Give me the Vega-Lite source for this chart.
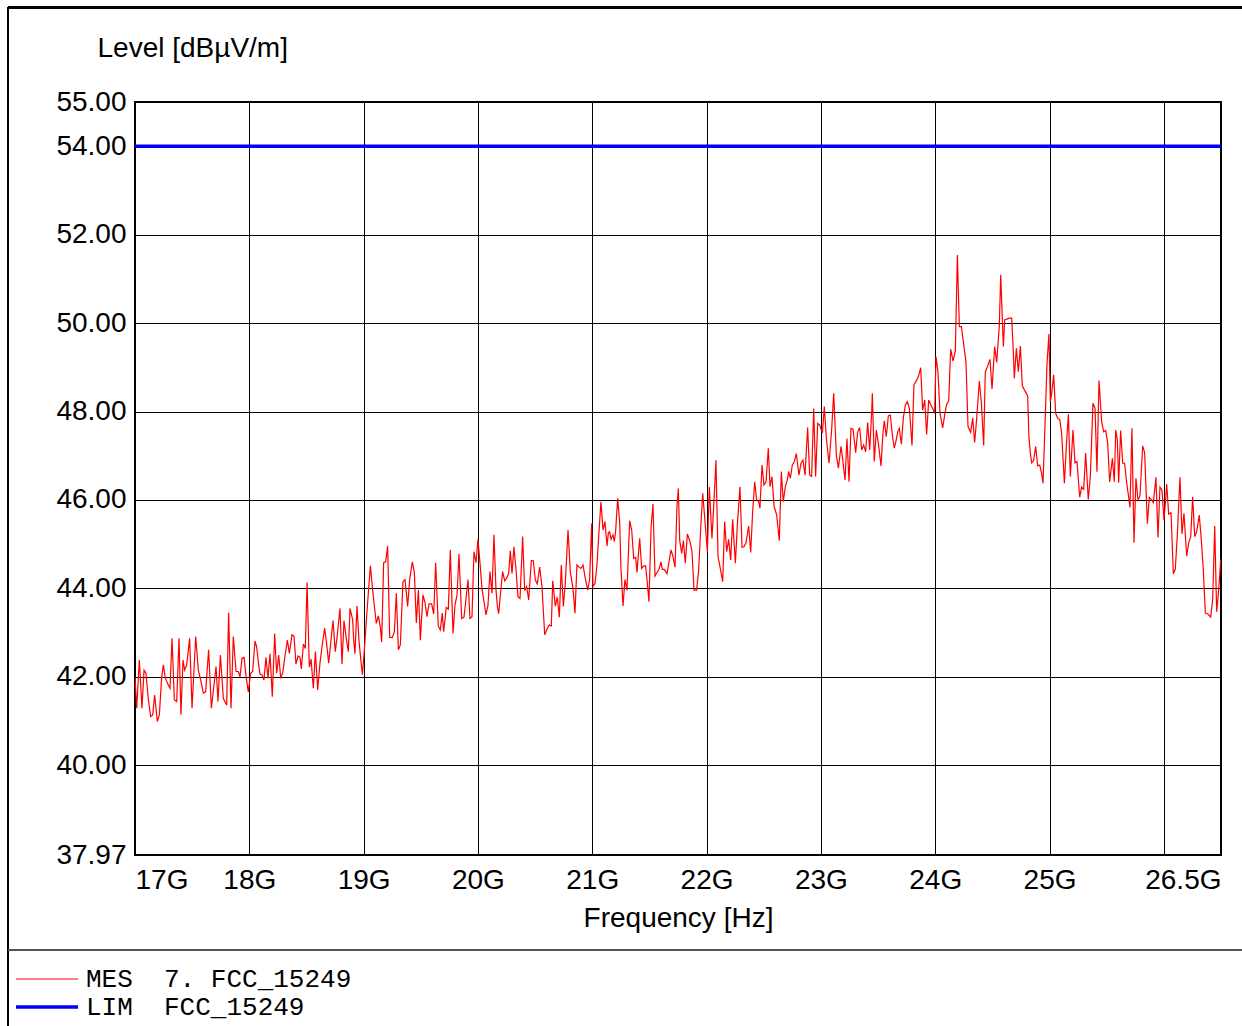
{
  "$schema": "https://vega.github.io/schema/vega-lite/v6.json",
  "width": 1086,
  "height": 753,
  "autosize": {"type": "none"},
  "padding": {"left": 135, "top": 102, "right": 21, "bottom": 171},
  "background": "#ffffff",
  "config": {
    "view": {"stroke": "#000000", "strokeWidth": 2},
    "font": "Liberation Sans",
    "axis": {
      "gridColor": "#000000", "gridOpacity": 1, "gridWidth": 1,
      "domain": false, "ticks": false,
      "labelColor": "#000000", "titleColor": "#000000",
      "labelFont": "Liberation Sans", "titleFont": "Liberation Sans",
      "labelFontSize": 28, "titleFontSize": 28, "titleFontWeight": "normal"
    },
    "legend": {
      "orient": "none", "legendX": -101, "legendY": 864, "title": null,
      "symbolType": "M-5,0H5", "symbolSize": 154, "padding": 0,
      "labelFont": "Liberation Mono", "labelFontSize": 26, "labelColor": "#000000",
      "labelOffset": 26, "rowPadding": 2, "labelLimit": 0
    }
  },
  "data": {"values": [
    {"f":17.000,"v":41.99,"s":"MES"},{"f":17.015,"v":41.29,"s":"MES"},{"f":17.038,"v":42.38,"s":"MES"},{"f":17.061,"v":41.29,"s":"MES"},
    {"f":17.079,"v":42.15,"s":"MES"},{"f":17.096,"v":42.08,"s":"MES"},{"f":17.117,"v":41.48,"s":"MES"},{"f":17.137,"v":41.10,"s":"MES"},
    {"f":17.155,"v":41.14,"s":"MES"},{"f":17.172,"v":41.59,"s":"MES"},{"f":17.195,"v":40.99,"s":"MES"},{"f":17.213,"v":41.14,"s":"MES"},
    {"f":17.233,"v":41.97,"s":"MES"},{"f":17.248,"v":42.27,"s":"MES"},{"f":17.265,"v":41.97,"s":"MES"},{"f":17.292,"v":41.81,"s":"MES"},
    {"f":17.306,"v":41.74,"s":"MES"},{"f":17.324,"v":42.87,"s":"MES"},{"f":17.344,"v":41.48,"s":"MES"},{"f":17.365,"v":41.44,"s":"MES"},
    {"f":17.385,"v":42.87,"s":"MES"},{"f":17.402,"v":41.14,"s":"MES"},{"f":17.420,"v":42.38,"s":"MES"},{"f":17.434,"v":42.15,"s":"MES"},
    {"f":17.452,"v":42.27,"s":"MES"},{"f":17.478,"v":42.87,"s":"MES"},{"f":17.499,"v":41.29,"s":"MES"},{"f":17.531,"v":42.91,"s":"MES"},
    {"f":17.554,"v":42.15,"s":"MES"},{"f":17.574,"v":41.93,"s":"MES"},{"f":17.598,"v":41.63,"s":"MES"},{"f":17.618,"v":41.66,"s":"MES"},
    {"f":17.644,"v":42.61,"s":"MES"},{"f":17.668,"v":41.29,"s":"MES"},{"f":17.709,"v":42.23,"s":"MES"},{"f":17.726,"v":41.44,"s":"MES"},
    {"f":17.747,"v":42.49,"s":"MES"},{"f":17.773,"v":41.51,"s":"MES"},{"f":17.802,"v":41.36,"s":"MES"},{"f":17.819,"v":43.45,"s":"MES"},
    {"f":17.840,"v":41.29,"s":"MES"},{"f":17.860,"v":42.91,"s":"MES"},{"f":17.884,"v":42.12,"s":"MES"},{"f":17.904,"v":42.12,"s":"MES"},
    {"f":17.919,"v":42.00,"s":"MES"},{"f":17.936,"v":42.42,"s":"MES"},{"f":17.954,"v":42.44,"s":"MES"},
    {"f":17.971,"v":42.02,"s":"MES"},{"f":17.991,"v":41.66,"s":"MES"},{"f":18.012,"v":42.08,"s":"MES"},{"f":18.029,"v":42.12,"s":"MES"},
    {"f":18.050,"v":42.81,"s":"MES"},{"f":18.064,"v":42.68,"s":"MES"},{"f":18.082,"v":42.27,"s":"MES"},{"f":18.093,"v":42.06,"s":"MES"},
    {"f":18.111,"v":42.04,"s":"MES"},{"f":18.128,"v":41.93,"s":"MES"},{"f":18.146,"v":42.44,"s":"MES"},{"f":18.163,"v":41.97,"s":"MES"},
    {"f":18.181,"v":42.52,"s":"MES"},{"f":18.201,"v":41.55,"s":"MES"},{"f":18.222,"v":42.98,"s":"MES"},{"f":18.239,"v":42.08,"s":"MES"},
    {"f":18.257,"v":42.49,"s":"MES"},{"f":18.274,"v":41.99,"s":"MES"},{"f":18.292,"v":42.08,"s":"MES"},{"f":18.309,"v":42.42,"s":"MES"},
    {"f":18.333,"v":42.83,"s":"MES"},{"f":18.350,"v":42.53,"s":"MES"},{"f":18.373,"v":42.95,"s":"MES"},{"f":18.391,"v":42.92,"s":"MES"},
    {"f":18.408,"v":42.29,"s":"MES"},{"f":18.426,"v":42.47,"s":"MES"},{"f":18.443,"v":42.44,"s":"MES"},{"f":18.455,"v":42.18,"s":"MES"},
    {"f":18.473,"v":42.74,"s":"MES"},{"f":18.490,"v":42.64,"s":"MES"},{"f":18.505,"v":44.13,"s":"MES"},{"f":18.525,"v":42.22,"s":"MES"},
    {"f":18.540,"v":42.40,"s":"MES"},{"f":18.560,"v":41.74,"s":"MES"},{"f":18.578,"v":42.57,"s":"MES"},{"f":18.598,"v":41.70,"s":"MES"},
    {"f":18.618,"v":42.31,"s":"MES"},{"f":18.636,"v":42.68,"s":"MES"},{"f":18.659,"v":43.10,"s":"MES"},{"f":18.677,"v":42.74,"s":"MES"},
    {"f":18.694,"v":42.31,"s":"MES"},{"f":18.712,"v":42.76,"s":"MES"},{"f":18.732,"v":43.27,"s":"MES"},{"f":18.752,"v":42.57,"s":"MES"},
    {"f":18.770,"v":42.95,"s":"MES"},{"f":18.793,"v":43.55,"s":"MES"},{"f":18.811,"v":42.29,"s":"MES"},{"f":18.828,"v":43.27,"s":"MES"},
    {"f":18.846,"v":42.91,"s":"MES"},{"f":18.866,"v":42.57,"s":"MES"},{"f":18.881,"v":43.55,"s":"MES"},{"f":18.904,"v":43.29,"s":"MES"},
    {"f":18.913,"v":42.83,"s":"MES"},{"f":18.924,"v":42.52,"s":"MES"},{"f":18.942,"v":43.60,"s":"MES"},{"f":18.959,"v":42.83,"s":"MES"},
    {"f":18.975,"v":42.40,"s":"MES"},{"f":18.989,"v":42.05,"s":"MES"},{"f":19.003,"v":42.49,"s":"MES"},{"f":19.024,"v":43.28,"s":"MES"},
    {"f":19.041,"v":43.89,"s":"MES"},{"f":19.059,"v":44.51,"s":"MES"},{"f":19.076,"v":44.04,"s":"MES"},{"f":19.094,"v":43.59,"s":"MES"},
    {"f":19.111,"v":43.21,"s":"MES"},{"f":19.129,"v":43.38,"s":"MES"},{"f":19.146,"v":43.13,"s":"MES"},{"f":19.158,"v":42.79,"s":"MES"},
    {"f":19.175,"v":44.58,"s":"MES"},{"f":19.193,"v":44.60,"s":"MES"},{"f":19.210,"v":44.96,"s":"MES"},{"f":19.228,"v":42.89,"s":"MES"},
    {"f":19.251,"v":42.89,"s":"MES"},{"f":19.269,"v":43.02,"s":"MES"},{"f":19.286,"v":43.89,"s":"MES"},{"f":19.304,"v":42.61,"s":"MES"},
    {"f":19.321,"v":42.72,"s":"MES"},{"f":19.344,"v":44.15,"s":"MES"},{"f":19.362,"v":44.20,"s":"MES"},{"f":19.374,"v":43.89,"s":"MES"},
    {"f":19.385,"v":43.59,"s":"MES"},{"f":19.403,"v":44.20,"s":"MES"},{"f":19.426,"v":44.60,"s":"MES"},{"f":19.444,"v":44.35,"s":"MES"},
    {"f":19.461,"v":43.22,"s":"MES"},{"f":19.479,"v":43.96,"s":"MES"},{"f":19.496,"v":42.83,"s":"MES"},{"f":19.519,"v":43.85,"s":"MES"},
    {"f":19.537,"v":43.68,"s":"MES"},{"f":19.554,"v":43.36,"s":"MES"},{"f":19.572,"v":43.65,"s":"MES"},{"f":19.595,"v":43.65,"s":"MES"},
    {"f":19.613,"v":43.42,"s":"MES"},{"f":19.630,"v":44.58,"s":"MES"},{"f":19.653,"v":43.15,"s":"MES"},{"f":19.671,"v":43.06,"s":"MES"},
    {"f":19.688,"v":43.44,"s":"MES"},{"f":19.700,"v":43.02,"s":"MES"},{"f":19.723,"v":43.57,"s":"MES"},{"f":19.741,"v":43.53,"s":"MES"},
    {"f":19.758,"v":44.87,"s":"MES"},{"f":19.782,"v":42.98,"s":"MES"},{"f":19.799,"v":43.62,"s":"MES"},{"f":19.817,"v":43.85,"s":"MES"},
    {"f":19.834,"v":44.78,"s":"MES"},{"f":19.858,"v":43.32,"s":"MES"},
    {"f":19.878,"v":43.35,"s":"MES"},{"f":19.896,"v":43.77,"s":"MES"},{"f":19.913,"v":44.20,"s":"MES"},{"f":19.930,"v":43.32,"s":"MES"},
    {"f":19.948,"v":43.36,"s":"MES"},{"f":19.965,"v":44.83,"s":"MES"},{"f":19.983,"v":44.58,"s":"MES"},{"f":20.000,"v":45.11,"s":"MES"},
    {"f":20.018,"v":44.57,"s":"MES"},{"f":20.035,"v":44.00,"s":"MES"},{"f":20.053,"v":43.70,"s":"MES"},{"f":20.070,"v":43.40,"s":"MES"},
    {"f":20.088,"v":43.62,"s":"MES"},{"f":20.105,"v":44.38,"s":"MES"},{"f":20.123,"v":43.89,"s":"MES"},{"f":20.140,"v":45.21,"s":"MES"},
    {"f":20.158,"v":43.96,"s":"MES"},{"f":20.170,"v":43.59,"s":"MES"},{"f":20.181,"v":43.43,"s":"MES"},{"f":20.199,"v":43.93,"s":"MES"},
    {"f":20.216,"v":44.38,"s":"MES"},{"f":20.234,"v":44.17,"s":"MES"},{"f":20.251,"v":44.23,"s":"MES"},{"f":20.269,"v":44.34,"s":"MES"},
    {"f":20.283,"v":44.85,"s":"MES"},{"f":20.298,"v":44.34,"s":"MES"},{"f":20.315,"v":44.94,"s":"MES"},{"f":20.333,"v":44.42,"s":"MES"},
    {"f":20.350,"v":43.81,"s":"MES"},{"f":20.368,"v":43.77,"s":"MES"},{"f":20.391,"v":45.17,"s":"MES"},{"f":20.409,"v":43.95,"s":"MES"},
    {"f":20.426,"v":44.04,"s":"MES"},{"f":20.444,"v":43.74,"s":"MES"},{"f":20.467,"v":44.63,"s":"MES"},{"f":20.484,"v":44.63,"s":"MES"},
    {"f":20.502,"v":44.19,"s":"MES"},{"f":20.519,"v":44.10,"s":"MES"},{"f":20.540,"v":44.48,"s":"MES"},{"f":20.560,"v":44.04,"s":"MES"},
    {"f":20.584,"v":42.95,"s":"MES"},{"f":20.607,"v":43.10,"s":"MES"},{"f":20.624,"v":43.17,"s":"MES"},{"f":20.642,"v":43.15,"s":"MES"},
    {"f":20.654,"v":44.17,"s":"MES"},{"f":20.677,"v":43.60,"s":"MES"},{"f":20.694,"v":43.80,"s":"MES"},{"f":20.712,"v":43.35,"s":"MES"},
    {"f":20.729,"v":44.53,"s":"MES"},{"f":20.747,"v":43.59,"s":"MES"},{"f":20.764,"v":44.11,"s":"MES"},{"f":20.788,"v":45.32,"s":"MES"},
    {"f":20.808,"v":44.38,"s":"MES"},
    {"f":20.831,"v":44.00,"s":"MES"},{"f":20.849,"v":43.44,"s":"MES"},{"f":20.866,"v":44.53,"s":"MES"},{"f":20.884,"v":44.48,"s":"MES"},
    {"f":20.901,"v":44.45,"s":"MES"},{"f":20.919,"v":44.53,"s":"MES"},{"f":20.936,"v":44.27,"s":"MES"},{"f":20.960,"v":43.96,"s":"MES"},
    {"f":20.977,"v":44.20,"s":"MES"},{"f":20.995,"v":45.47,"s":"MES"},{"f":21.006,"v":44.04,"s":"MES"},{"f":21.024,"v":44.11,"s":"MES"},
    {"f":21.041,"v":44.53,"s":"MES"},{"f":21.059,"v":45.28,"s":"MES"},{"f":21.076,"v":45.96,"s":"MES"},{"f":21.094,"v":45.32,"s":"MES"},
    {"f":21.111,"v":45.51,"s":"MES"},{"f":21.129,"v":44.96,"s":"MES"},{"f":21.141,"v":45.26,"s":"MES"},{"f":21.152,"v":45.28,"s":"MES"},
    {"f":21.164,"v":45.11,"s":"MES"},{"f":21.181,"v":45.21,"s":"MES"},{"f":21.193,"v":45.06,"s":"MES"},{"f":21.205,"v":45.31,"s":"MES"},
    {"f":21.222,"v":46.04,"s":"MES"},{"f":21.240,"v":45.49,"s":"MES"},{"f":21.251,"v":44.45,"s":"MES"},{"f":21.269,"v":43.60,"s":"MES"},
    {"f":21.286,"v":44.20,"s":"MES"},{"f":21.304,"v":43.96,"s":"MES"},{"f":21.327,"v":45.53,"s":"MES"},{"f":21.345,"v":45.32,"s":"MES"},
    {"f":21.362,"v":44.68,"s":"MES"},{"f":21.380,"v":44.70,"s":"MES"},{"f":21.391,"v":44.36,"s":"MES"},{"f":21.415,"v":45.13,"s":"MES"},
    {"f":21.432,"v":44.45,"s":"MES"},{"f":21.450,"v":44.51,"s":"MES"},{"f":21.467,"v":44.51,"s":"MES"},{"f":21.479,"v":44.19,"s":"MES"},
    {"f":21.496,"v":43.70,"s":"MES"},{"f":21.514,"v":45.36,"s":"MES"},{"f":21.531,"v":45.91,"s":"MES"},{"f":21.549,"v":44.28,"s":"MES"},
    {"f":21.566,"v":44.36,"s":"MES"},{"f":21.584,"v":44.43,"s":"MES"},{"f":21.601,"v":44.60,"s":"MES"},{"f":21.613,"v":44.43,"s":"MES"},
    {"f":21.630,"v":44.43,"s":"MES"},{"f":21.654,"v":44.33,"s":"MES"},{"f":21.671,"v":44.60,"s":"MES"},{"f":21.689,"v":44.87,"s":"MES"},
    {"f":21.706,"v":44.72,"s":"MES"},{"f":21.724,"v":44.48,"s":"MES"},{"f":21.741,"v":45.85,"s":"MES"},{"f":21.753,"v":46.26,"s":"MES"},
    {"f":21.765,"v":45.09,"s":"MES"},
    {"f":21.782,"v":44.79,"s":"MES"},{"f":21.797,"v":45.08,"s":"MES"},{"f":21.814,"v":44.57,"s":"MES"},{"f":21.832,"v":45.23,"s":"MES"},
    {"f":21.855,"v":45.06,"s":"MES"},{"f":21.872,"v":44.85,"s":"MES"},{"f":21.890,"v":43.96,"s":"MES"},{"f":21.913,"v":43.96,"s":"MES"},
    {"f":21.931,"v":44.42,"s":"MES"},{"f":21.948,"v":45.32,"s":"MES"},{"f":21.966,"v":46.15,"s":"MES"},{"f":21.983,"v":45.62,"s":"MES"},
    {"f":22.007,"v":44.83,"s":"MES"},{"f":22.024,"v":46.29,"s":"MES"},{"f":22.047,"v":45.13,"s":"MES"},{"f":22.065,"v":45.98,"s":"MES"},
    {"f":22.082,"v":46.90,"s":"MES"},{"f":22.100,"v":44.72,"s":"MES"},{"f":22.117,"v":44.49,"s":"MES"},{"f":22.141,"v":44.15,"s":"MES"},
    {"f":22.158,"v":45.51,"s":"MES"},{"f":22.176,"v":44.83,"s":"MES"},{"f":22.193,"v":45.11,"s":"MES"},{"f":22.211,"v":44.64,"s":"MES"},
    {"f":22.228,"v":45.56,"s":"MES"},{"f":22.252,"v":44.57,"s":"MES"},{"f":22.269,"v":45.43,"s":"MES"},{"f":22.292,"v":46.30,"s":"MES"},
    {"f":22.310,"v":44.93,"s":"MES"},{"f":22.327,"v":44.94,"s":"MES"},{"f":22.345,"v":45.03,"s":"MES"},{"f":22.368,"v":45.41,"s":"MES"},
    {"f":22.386,"v":44.81,"s":"MES"},{"f":22.403,"v":45.73,"s":"MES"},{"f":22.421,"v":46.41,"s":"MES"},{"f":22.438,"v":46.00,"s":"MES"},
    {"f":22.456,"v":45.96,"s":"MES"},{"f":22.467,"v":45.81,"s":"MES"},{"f":22.485,"v":46.79,"s":"MES"},{"f":22.502,"v":46.34,"s":"MES"},
    {"f":22.520,"v":46.41,"s":"MES"},{"f":22.540,"v":47.17,"s":"MES"},{"f":22.555,"v":46.30,"s":"MES"},{"f":22.572,"v":46.53,"s":"MES"},
    {"f":22.590,"v":45.86,"s":"MES"},{"f":22.613,"v":45.66,"s":"MES"},{"f":22.636,"v":45.08,"s":"MES"},{"f":22.654,"v":46.64,"s":"MES"},
    {"f":22.671,"v":45.96,"s":"MES"},{"f":22.689,"v":46.30,"s":"MES"},{"f":22.706,"v":46.45,"s":"MES"},{"f":22.718,"v":46.64,"s":"MES"},
    {"f":22.733,"v":46.49,"s":"MES"},{"f":22.750,"v":46.79,"s":"MES"},{"f":22.768,"v":46.87,"s":"MES"},{"f":22.785,"v":47.05,"s":"MES"},
    {"f":22.808,"v":46.56,"s":"MES"},{"f":22.826,"v":46.83,"s":"MES"},{"f":22.843,"v":46.90,"s":"MES"},{"f":22.861,"v":46.56,"s":"MES"},
    {"f":22.884,"v":47.64,"s":"MES"},{"f":22.902,"v":46.56,"s":"MES"},{"f":22.919,"v":46.53,"s":"MES"},{"f":22.937,"v":48.07,"s":"MES"},
    {"f":22.954,"v":46.53,"s":"MES"},{"f":22.972,"v":47.73,"s":"MES"},{"f":22.989,"v":47.70,"s":"MES"},{"f":23.013,"v":47.51,"s":"MES"},
    {"f":23.030,"v":48.11,"s":"MES"},{"f":23.048,"v":47.39,"s":"MES"},{"f":23.071,"v":46.83,"s":"MES"},{"f":23.094,"v":47.58,"s":"MES"},
    {"f":23.112,"v":48.41,"s":"MES"},{"f":23.135,"v":47.02,"s":"MES"},{"f":23.153,"v":46.72,"s":"MES"},{"f":23.176,"v":47.21,"s":"MES"},
    {"f":23.193,"v":46.87,"s":"MES"},{"f":23.211,"v":46.45,"s":"MES"},{"f":23.228,"v":47.39,"s":"MES"},{"f":23.246,"v":46.41,"s":"MES"},
    {"f":23.263,"v":47.62,"s":"MES"},{"f":23.281,"v":47.60,"s":"MES"},{"f":23.304,"v":47.07,"s":"MES"},{"f":23.322,"v":47.54,"s":"MES"},
    {"f":23.339,"v":47.64,"s":"MES"},{"f":23.357,"v":47.13,"s":"MES"},{"f":23.374,"v":47.24,"s":"MES"},{"f":23.392,"v":47.09,"s":"MES"},
    {"f":23.409,"v":47.75,"s":"MES"},{"f":23.427,"v":47.13,"s":"MES"},{"f":23.444,"v":47.97,"s":"MES"},{"f":23.450,"v":48.41,"s":"MES"},
    {"f":23.467,"v":46.87,"s":"MES"},{"f":23.485,"v":47.58,"s":"MES"},{"f":23.502,"v":47.30,"s":"MES"},{"f":23.526,"v":46.77,"s":"MES"},
    {"f":23.543,"v":47.52,"s":"MES"},{"f":23.555,"v":47.79,"s":"MES"},{"f":23.572,"v":47.43,"s":"MES"},{"f":23.590,"v":47.90,"s":"MES"},
    {"f":23.607,"v":47.92,"s":"MES"},{"f":23.625,"v":47.47,"s":"MES"},{"f":23.642,"v":47.17,"s":"MES"},{"f":23.660,"v":47.37,"s":"MES"},
    {"f":23.672,"v":47.54,"s":"MES"},
    {"f":23.686,"v":47.62,"s":"MES"},{"f":23.704,"v":47.26,"s":"MES"},{"f":23.721,"v":47.85,"s":"MES"},{"f":23.739,"v":48.15,"s":"MES"},
    {"f":23.756,"v":48.22,"s":"MES"},{"f":23.774,"v":48.07,"s":"MES"},{"f":23.797,"v":47.23,"s":"MES"},{"f":23.814,"v":48.60,"s":"MES"},
    {"f":23.838,"v":48.71,"s":"MES"},{"f":23.855,"v":48.81,"s":"MES"},{"f":23.873,"v":48.99,"s":"MES"},{"f":23.890,"v":48.03,"s":"MES"},
    {"f":23.908,"v":48.26,"s":"MES"},{"f":23.925,"v":47.48,"s":"MES"},{"f":23.943,"v":48.26,"s":"MES"},{"f":23.960,"v":48.16,"s":"MES"},
    {"f":23.978,"v":48.07,"s":"MES"},{"f":23.995,"v":47.96,"s":"MES"},{"f":24.007,"v":49.24,"s":"MES"},{"f":24.024,"v":48.90,"s":"MES"},
    {"f":24.042,"v":47.96,"s":"MES"},{"f":24.065,"v":47.63,"s":"MES"},{"f":24.083,"v":47.92,"s":"MES"},{"f":24.100,"v":48.16,"s":"MES"},
    {"f":24.118,"v":48.24,"s":"MES"},{"f":24.135,"v":49.41,"s":"MES"},{"f":24.156,"v":49.14,"s":"MES"},{"f":24.176,"v":49.37,"s":"MES"},
    {"f":24.194,"v":51.54,"s":"MES"},{"f":24.211,"v":49.92,"s":"MES"},{"f":24.229,"v":49.92,"s":"MES"},{"f":24.246,"v":49.58,"s":"MES"},
    {"f":24.269,"v":49.13,"s":"MES"},{"f":24.287,"v":47.66,"s":"MES"},{"f":24.310,"v":47.53,"s":"MES"},{"f":24.328,"v":47.85,"s":"MES"},
    {"f":24.345,"v":47.30,"s":"MES"},{"f":24.363,"v":47.85,"s":"MES"},{"f":24.386,"v":48.69,"s":"MES"},{"f":24.403,"v":48.22,"s":"MES"},
    {"f":24.424,"v":47.23,"s":"MES"},{"f":24.438,"v":48.89,"s":"MES"},{"f":24.456,"v":49.01,"s":"MES"},{"f":24.479,"v":49.18,"s":"MES"},
    {"f":24.497,"v":48.51,"s":"MES"},{"f":24.520,"v":49.47,"s":"MES"},{"f":24.538,"v":49.11,"s":"MES"},{"f":24.561,"v":49.96,"s":"MES"},
    {"f":24.573,"v":51.09,"s":"MES"},{"f":24.596,"v":49.47,"s":"MES"},{"f":24.608,"v":50.07,"s":"MES"},{"f":24.625,"v":50.09,"s":"MES"},
    {"f":24.645,"v":50.11,"s":"MES"},{"f":24.669,"v":50.11,"s":"MES"},{"f":24.680,"v":49.54,"s":"MES"},{"f":24.692,"v":48.75,"s":"MES"},
    {"f":24.710,"v":49.43,"s":"MES"},{"f":24.727,"v":48.90,"s":"MES"},{"f":24.745,"v":49.48,"s":"MES"},{"f":24.762,"v":48.58,"s":"MES"},
    {"f":24.780,"v":48.49,"s":"MES"},{"f":24.797,"v":48.41,"s":"MES"},{"f":24.809,"v":48.35,"s":"MES"},{"f":24.820,"v":47.43,"s":"MES"},
    {"f":24.832,"v":47.06,"s":"MES"},{"f":24.844,"v":46.84,"s":"MES"},{"f":24.861,"v":46.89,"s":"MES"},{"f":24.879,"v":47.21,"s":"MES"},
    {"f":24.896,"v":46.77,"s":"MES"},{"f":24.914,"v":46.79,"s":"MES"},{"f":24.931,"v":46.60,"s":"MES"},{"f":24.943,"v":46.38,"s":"MES"},
    {"f":24.960,"v":47.66,"s":"MES"},{"f":24.978,"v":49.09,"s":"MES"},{"f":24.995,"v":49.75,"s":"MES"},{"f":25.007,"v":48.22,"s":"MES"},
    {"f":25.019,"v":48.41,"s":"MES"},{"f":25.036,"v":48.83,"s":"MES"},{"f":25.054,"v":47.96,"s":"MES"},{"f":25.071,"v":47.85,"s":"MES"},
    {"f":25.089,"v":47.82,"s":"MES"},{"f":25.106,"v":47.51,"s":"MES"},{"f":25.130,"v":46.38,"s":"MES"},{"f":25.147,"v":47.21,"s":"MES"},
    {"f":25.165,"v":47.94,"s":"MES"},{"f":25.182,"v":46.53,"s":"MES"},{"f":25.205,"v":47.58,"s":"MES"},{"f":25.223,"v":46.84,"s":"MES"},
    {"f":25.240,"v":46.87,"s":"MES"},{"f":25.264,"v":46.06,"s":"MES"},{"f":25.281,"v":46.29,"s":"MES"},{"f":25.299,"v":46.24,"s":"MES"},
    {"f":25.316,"v":47.06,"s":"MES"},{"f":25.339,"v":46.01,"s":"MES"},{"f":25.357,"v":46.53,"s":"MES"},{"f":25.380,"v":48.19,"s":"MES"},
    {"f":25.398,"v":48.07,"s":"MES"},{"f":25.415,"v":46.64,"s":"MES"},{"f":25.433,"v":48.70,"s":"MES"},{"f":25.456,"v":47.77,"s":"MES"},
    {"f":25.474,"v":47.54,"s":"MES"},{"f":25.491,"v":47.57,"s":"MES"},{"f":25.509,"v":47.28,"s":"MES"},{"f":25.526,"v":46.41,"s":"MES"},
    {"f":25.550,"v":46.94,"s":"MES"},{"f":25.567,"v":46.41,"s":"MES"},{"f":25.579,"v":47.58,"s":"MES"},
    {"f":25.593,"v":47.36,"s":"MES"},{"f":25.605,"v":46.39,"s":"MES"},{"f":25.622,"v":47.57,"s":"MES"},{"f":25.640,"v":46.83,"s":"MES"},
    {"f":25.657,"v":46.83,"s":"MES"},{"f":25.675,"v":46.38,"s":"MES"},{"f":25.692,"v":46.07,"s":"MES"},{"f":25.704,"v":45.83,"s":"MES"},
    {"f":25.721,"v":47.62,"s":"MES"},{"f":25.739,"v":45.03,"s":"MES"},{"f":25.756,"v":46.49,"s":"MES"},{"f":25.774,"v":46.00,"s":"MES"},
    {"f":25.791,"v":46.09,"s":"MES"},{"f":25.815,"v":47.22,"s":"MES"},{"f":25.832,"v":47.07,"s":"MES"},{"f":25.856,"v":45.46,"s":"MES"},
    {"f":25.873,"v":46.06,"s":"MES"},{"f":25.891,"v":46.01,"s":"MES"},{"f":25.908,"v":45.94,"s":"MES"},{"f":25.931,"v":46.51,"s":"MES"},
    {"f":25.949,"v":45.15,"s":"MES"},{"f":25.966,"v":46.29,"s":"MES"},{"f":25.984,"v":46.22,"s":"MES"},{"f":26.001,"v":45.55,"s":"MES"},
    {"f":26.013,"v":45.92,"s":"MES"},{"f":26.025,"v":46.36,"s":"MES"},{"f":26.042,"v":45.68,"s":"MES"},{"f":26.063,"v":45.71,"s":"MES"},
    {"f":26.083,"v":44.33,"s":"MES"},{"f":26.100,"v":44.43,"s":"MES"},{"f":26.118,"v":45.21,"s":"MES"},{"f":26.141,"v":46.51,"s":"MES"},
    {"f":26.159,"v":45.23,"s":"MES"},{"f":26.176,"v":45.70,"s":"MES"},{"f":26.200,"v":44.73,"s":"MES"},{"f":26.217,"v":45.03,"s":"MES"},
    {"f":26.235,"v":45.17,"s":"MES"},{"f":26.252,"v":46.07,"s":"MES"},{"f":26.270,"v":45.17,"s":"MES"},{"f":26.287,"v":45.28,"s":"MES"},
    {"f":26.310,"v":45.66,"s":"MES"},{"f":26.328,"v":45.09,"s":"MES"},{"f":26.345,"v":44.42,"s":"MES"},{"f":26.363,"v":43.44,"s":"MES"},
    {"f":26.386,"v":43.42,"s":"MES"},{"f":26.410,"v":43.35,"s":"MES"},{"f":26.427,"v":43.74,"s":"MES"},{"f":26.445,"v":45.41,"s":"MES"},
    {"f":26.462,"v":43.47,"s":"MES"},{"f":26.480,"v":43.96,"s":"MES"},{"f":26.497,"v":44.64,"s":"MES"},{"f":26.500,"v":44.66,"s":"MES"},
    {"f":17.0,"v":54,"s":"LIM"},{"f":26.5,"v":54,"s":"LIM"}
  ]},
  "layer": [
    {
      "mark": {"type": "line", "clip": true},
      "encoding": {
        "x": {
          "field": "f", "type": "quantitative",
          "scale": {"domain": [17, 26.5], "nice": false, "zero": false},
          "axis": {
            "values": [17, 18, 19, 20, 21, 22, 23, 24, 25, 26, 26.5],
            "labelExpr": "datum.value == 26 ? '' : datum.value + 'G'",
            "labelFlush": true, "labelOverlap": false, "labelPadding": 11,
            "title": "Frequency [Hz]", "titlePadding": 10
          }
        },
        "y": {
          "field": "v", "type": "quantitative",
          "scale": {"domain": [37.97, 55], "nice": false, "zero": false},
          "axis": {
            "values": [37.97, 40, 42, 44, 46, 48, 50, 52, 54, 55],
            "format": ".2f", "labelPadding": 9,
            "title": "Level [dBµV/m]", "titleAngle": 0, "titleAlign": "left",
            "titleBaseline": "alphabetic", "titleX": -38, "titleY": -46
          }
        },
        "color": {
          "field": "s", "type": "nominal",
          "scale": {"domain": ["MES", "LIM"], "range": ["#ff0000", "#0000ff"]},
          "legend": {
            "labelExpr": "datum.value == 'MES' ? 'MES\u00a0\u00a07.\u00a0FCC_15249' : 'LIM\u00a0\u00a0FCC_15249'"
          }
        },
        "strokeWidth": {
          "field": "s", "type": "nominal",
          "scale": {"domain": ["MES", "LIM"], "range": [1.2, 3.5]},
          "legend": {
            "labelExpr": "datum.value == 'MES' ? 'MES\u00a0\u00a07.\u00a0FCC_15249' : 'LIM\u00a0\u00a0FCC_15249'"
          }
        }
      }
    },
    {
      "mark": {"type": "rule", "stroke": "#000000", "strokeWidth": 1.5, "clip": false},
      "encoding": {
        "x": {"datum": 15.889, "type": "quantitative"},
        "y": {"datum": 57.137, "type": "quantitative"},
        "y2": {"datum": 34.1}
      }
    },
    {
      "mark": {"type": "rule", "stroke": "#000000", "strokeWidth": 1.5, "clip": false},
      "encoding": {
        "x": {"datum": 15.889, "type": "quantitative"},
        "x2": {"datum": 26.69},
        "y": {"datum": 57.137, "type": "quantitative"}
      }
    },
    {
      "mark": {"type": "rule", "stroke": "#555555", "strokeWidth": 1.5, "clip": false},
      "encoding": {
        "x": {"datum": 15.889, "type": "quantitative"},
        "x2": {"datum": 26.69},
        "y": {"datum": 35.821, "type": "quantitative"}
      }
    }
  ]
}
